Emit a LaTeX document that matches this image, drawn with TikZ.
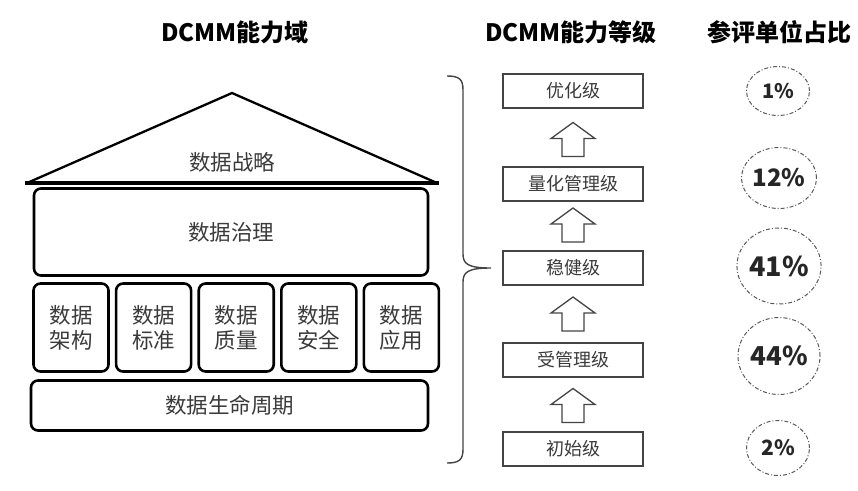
\documentclass[tikz,border=0pt]{standalone}
\usepackage{fontspec}
\setmainfont{Noto Sans CJK SC}
\usetikzlibrary{positioning,calc,shapes.geometric}
\definecolor{txtgray}{HTML}{3A3A3A}
\definecolor{linegray}{HTML}{444444}
\tikzset{
    house/.style={
           rectangle,
           rounded corners=7pt,
           draw=black, line width=2.6pt,
           fill=white,
           text=txtgray,
           font=\fontsize{21.5}{25}\selectfont,
           align=center,
           inner sep=0pt,
           },
    level/.style={
           rectangle,
           draw=linegray, line width=1.3pt,
           minimum width=140pt,
           minimum height=34pt,
           inner sep=0pt,
           text=txtgray,
           font=\fontsize{18}{20}\selectfont,
           },
    share/.style={
           ellipse,
           draw=black!65, dash pattern=on 4pt off 2pt on 1pt off 2pt, line width=1pt,
           inner sep=0pt,
           text=black!85,
           },
    title/.style={font=\fontsize{24}{28}\selectfont\bfseries, text=black},
    upstep/.pic={
        \draw[draw=linegray, line width=1.3pt, fill=white, line join=miter]
            (0,-17) -- (22,-1) -- (11,-1) -- (11,17) -- (-11,17) -- (-11,-1) -- (-22,-1) -- cycle;
    },
}

\begin{document}
\begin{tikzpicture}[x=1pt,y=-1pt]
        \useasboundingbox (0,0) rectangle (858,490);

        % titles of the three columns
        \node[title] (T_DOMAIN) at (235,32) {DCMM能力域};
        \node[title] (T_LEVEL)  at (571,32) {DCMM能力等级};
        \node[title] (T_SHARE)  at (779,32) {参评单位占比};

        % ROOF: strategy
        \draw[black, line width=2.3pt, line join=miter] (27,183) -- (232,93) -- (437,183);
        \draw[black, line width=3.6pt] (25,183) -- (439,183);
        \node[text=txtgray, font=\fontsize{21.5}{25}\selectfont] (D_STRAT) at (232,162) {数据战略};

        % BOX: governance
        \node[house,
            minimum width=394pt,
            minimum height=87pt] (D_GOV) at (231,232)
        {数据治理};

        % five pillars, placed side by side
        \node[house,
            minimum width=75pt,
            minimum height=88pt] (D_ARCH) at (71,327.5)
        {数据\\架构};
        \node[house,
            minimum width=75pt,
            minimum height=88pt,
            right=5pt of D_ARCH] (D_STD)
        {数据\\标准};
        \node[house,
            minimum width=75pt,
            minimum height=88pt,
            right=5pt of D_STD] (D_QUAL)
        {数据\\质量};
        \node[house,
            minimum width=75pt,
            minimum height=88pt,
            right=5pt of D_QUAL] (D_SAFE)
        {数据\\安全};
        \node[house,
            minimum width=75pt,
            minimum height=88pt,
            right=5pt of D_SAFE] (D_APP)
        {数据\\应用};

        % BOX: life cycle
        \node[house,
            minimum width=397pt,
            minimum height=50pt] (D_LIFE) at (229.5,405.5)
        {数据生命周期};

        % brace between the house and the levels
        \coordinate (B_TOP) at (447,76);
        \coordinate (B_TIP) at (491,268);
        \coordinate (B_BOT) at (447,463);
        \draw[linegray, line width=1.4pt]
            (B_TOP) .. controls (459,76) and (463,79) .. (463,90)
            -- (463,254) .. controls (463,264) and (468,268) .. (B_TIP)
            .. controls (468,268) and (463,272) .. (463,282)
            -- (463,449) .. controls (463,460) and (459,463) .. (B_BOT);

        % LEVELS, from the top down
        \node[level] (L_OPT) at (573,91) {优化级};
        \node[level, below=57.7pt of L_OPT]   (L_QUANT) {量化管理级};
        \node[level, below=48.7pt of L_QUANT] (L_ROBUST) {稳健级};
        \node[level, below=56.7pt of L_ROBUST] (L_MANAGED) {受管理级};
        \node[level, below=53.7pt of L_MANAGED] (L_INIT) {初始级};

        % hollow arrows between the levels
        \pic at ($(L_OPT.south)!0.5!(L_QUANT.north)+(0,2)$) {upstep};
        \pic at ($(L_QUANT.south)!0.5!(L_ROBUST.north)+(0,-1)$) {upstep};
        \pic at ($(L_ROBUST.south)!0.5!(L_MANAGED.north)$) {upstep};
        \pic at ($(L_MANAGED.south)!0.5!(L_INIT.north)+(0,1)$) {upstep};

        % SHARES of the assessed units
        \node[share, minimum width=63pt, minimum height=49pt,
            font=\fontsize{20}{22}\selectfont\bfseries] (S_OPT) at (778,91) {1\%};
        \node[share, minimum width=72pt, minimum height=61pt,
            font=\fontsize{24}{26}\selectfont\bfseries] (S_QUANT) at (779,178) {12\%};
        \node[share, minimum width=82pt, minimum height=76pt,
            font=\fontsize{27}{30}\selectfont\bfseries] (S_ROBUST) at (779,266) {41\%};
        \node[share, minimum width=82pt, minimum height=77pt,
            font=\fontsize{26}{30}\selectfont\bfseries] (S_MANAGED) at (779,356) {44\%};
        \node[share, minimum width=63pt, minimum height=55pt,
            font=\fontsize{21}{24}\selectfont\bfseries] (S_INIT) at (778,448) {2\%};

\end{tikzpicture}
\end{document}
